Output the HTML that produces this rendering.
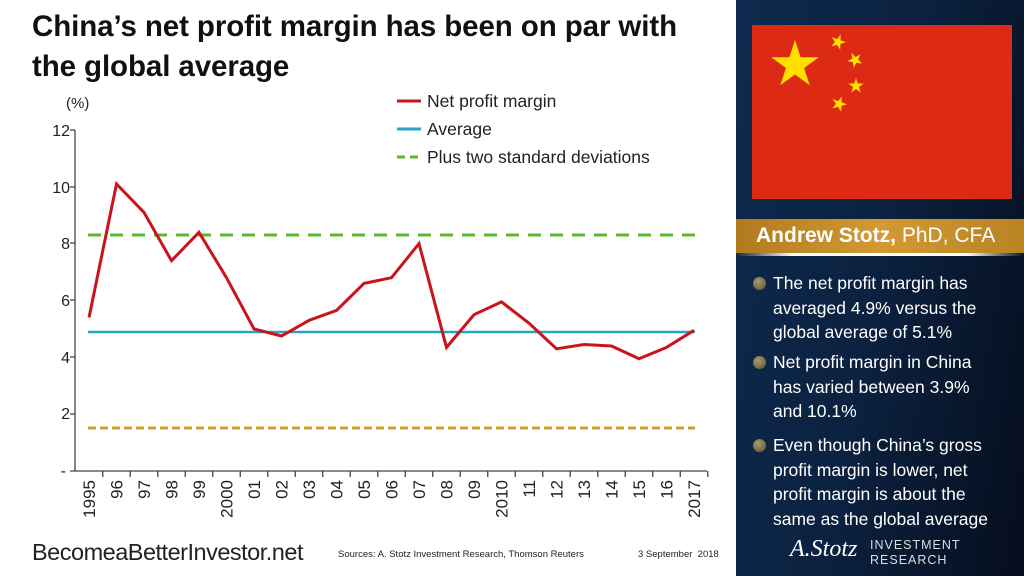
<!DOCTYPE html>
<html><head><meta charset="utf-8"><style>
body{margin:0;width:1024px;height:576px;overflow:hidden;background:#fff;font-family:"Liberation Sans",sans-serif;position:relative}
.title{position:absolute;left:32px;top:7px;font-size:29.5px;font-weight:bold;line-height:40px;color:#111;letter-spacing:-0.1px;white-space:nowrap}
.panel{position:absolute;left:736px;top:0;width:288px;height:576px;background:linear-gradient(100deg,#0e2a4e 0%,#0b213f 50%,#050d1c 100%)}
.band{position:absolute;left:736px;top:219px;width:288px;height:34px;background:linear-gradient(90deg,#b07a1e,#d39a33,#b98324);color:#fff;font-size:21px;line-height:34px;padding-left:20px;box-sizing:border-box}
.bul{position:absolute;left:773px;color:#fff;font-size:17.5px;line-height:24.5px;white-space:nowrap;letter-spacing:0px}
.dot{position:absolute;left:-20px;top:6px;width:13px;height:13px;border-radius:50%;background:radial-gradient(circle at 40% 35%,#a89a6a,#5a5030)}
.foot{position:absolute;color:#222;white-space:nowrap}
</style></head><body>
<div class="title">China’s net profit margin has been on par with<br>the global average</div>
<svg width="736" height="576" style="position:absolute;left:0;top:0" font-family="Liberation Sans, sans-serif">
<text x="66" y="108" font-size="15" fill="#222">(%)</text>
<g font-size="16" fill="#222" text-anchor="end">
<text x="70" y="136">12</text><text x="70" y="193">10</text><text x="70" y="249">8</text><text x="70" y="306">6</text><text x="70" y="363">4</text><text x="70" y="419">2</text><text x="66" y="476">-</text>
</g>
<g stroke="#444" stroke-width="1.3">
<line x1="75" y1="130" x2="75" y2="471"/>
<line x1="70" y1="130" x2="75" y2="130"/><line x1="70" y1="187" x2="75" y2="187"/><line x1="70" y1="243" x2="75" y2="243"/><line x1="70" y1="300" x2="75" y2="300"/><line x1="70" y1="357" x2="75" y2="357"/><line x1="70" y1="414" x2="75" y2="414"/>
<line x1="70" y1="471" x2="707" y2="471"/>
</g>
<g id="ticks" stroke="#444" stroke-width="1.3"></g>
<g id="xl" font-size="17" fill="#222"></g>
<line x1="88" y1="235" x2="695" y2="235" stroke="#5cb82a" stroke-width="3" stroke-dasharray="13,9"/>
<line x1="88" y1="428" x2="695" y2="428" stroke="#d89a2a" stroke-width="3" stroke-dasharray="8,4"/>
<line x1="88" y1="332" x2="695" y2="332" stroke="#2aa3c9" stroke-width="2.5"/>
<polyline id="red" fill="none" stroke="#c8141a" stroke-width="3"/>
<line x1="397" y1="101" x2="421" y2="101" stroke="#c8141a" stroke-width="3"/>
<line x1="397" y1="129" x2="421" y2="129" stroke="#2aa3c9" stroke-width="3"/>
<line x1="397" y1="157" x2="421" y2="157" stroke="#5cb82a" stroke-width="3" stroke-dasharray="8,5"/>
<g font-size="17.5" fill="#222"><text x="427" y="107">Net profit margin</text><text x="427" y="135">Average</text><text x="427" y="163">Plus two standard deviations</text></g>
</svg>
<div class="panel"></div>
<svg width="288" height="220" style="position:absolute;left:736px;top:0" fill="#ffde00">
<rect x="16" y="25" width="260" height="174" fill="#dd2a14"/>
<polygon points="0,-1 0.2245,-0.309 0.951,-0.309 0.363,0.118 0.588,0.809 0,0.382 -0.588,0.809 -0.363,0.118 -0.951,-0.309 -0.2245,-0.309" transform="translate(59,65) scale(25)"/>
<polygon points="0,-1 0.2245,-0.309 0.951,-0.309 0.363,0.118 0.588,0.809 0,0.382 -0.588,0.809 -0.363,0.118 -0.951,-0.309 -0.2245,-0.309" transform="translate(102,42) rotate(20) scale(8)"/>
<polygon points="0,-1 0.2245,-0.309 0.951,-0.309 0.363,0.118 0.588,0.809 0,0.382 -0.588,0.809 -0.363,0.118 -0.951,-0.309 -0.2245,-0.309" transform="translate(119,60) rotate(45) scale(8)"/>
<polygon points="0,-1 0.2245,-0.309 0.951,-0.309 0.363,0.118 0.588,0.809 0,0.382 -0.588,0.809 -0.363,0.118 -0.951,-0.309 -0.2245,-0.309" transform="translate(120,86) scale(8)"/>
<polygon points="0,-1 0.2245,-0.309 0.951,-0.309 0.363,0.118 0.588,0.809 0,0.382 -0.588,0.809 -0.363,0.118 -0.951,-0.309 -0.2245,-0.309" transform="translate(103,104) rotate(20) scale(8)"/>
</svg>
<div class="band"><b>Andrew Stotz,</b> PhD, CFA</div>
<div style="position:absolute;left:736px;top:253px;width:288px;height:3px;background:linear-gradient(90deg,transparent,#fff 20%,#fff 80%,transparent)"></div>
<div class="bul" style="top:271px"><span class="dot"></span>The net profit margin has<br>averaged 4.9% versus the<br>global average of 5.1%</div>
<div class="bul" style="top:350px"><span class="dot"></span>Net profit margin in China<br>has varied between 3.9%<br>and 10.1%</div>
<div class="bul" style="top:433px"><span class="dot"></span>Even though China’s gross<br>profit margin is lower, net<br>profit margin is about the<br>same as the global average</div>
<div style="position:absolute;left:790px;top:536px;color:#fff;font-family:'Liberation Serif',serif;font-style:italic;font-size:24px">A.Stotz</div>
<div style="position:absolute;left:870px;top:538px;color:#ddd;font-size:12.5px;line-height:15px;letter-spacing:1px">INVESTMENT<br>RESEARCH</div>
<div class="foot" style="left:32px;top:539px;font-size:23.5px;letter-spacing:-0.5px">BecomeaBetterInvestor.net</div>
<div class="foot" style="left:338px;top:549px;font-size:9.5px">Sources: A. Stotz Investment Research, Thomson Reuters</div>
<div class="foot" style="left:638px;top:549px;font-size:9.5px">3 September &nbsp;2018</div>
<script>
var d=[5.4,10.1,9.1,7.4,8.4,6.8,5.0,4.75,5.3,5.65,6.6,6.8,8.0,4.35,5.5,5.95,5.2,4.3,4.45,4.4,3.95,4.35,4.95];
var L=["1995","96","97","98","99","2000","01","02","03","04","05","06","07","08","09","2010","11","12","13","14","15","16","2017"];
var ns="http://www.w3.org/2000/svg",pts=[],tk=document.getElementById('ticks'),xl=document.getElementById('xl');
for(var i=0;i<23;i++){var x=89+i*27.5;pts.push(x+","+(471-d[i]*28.42).toFixed(1));
var t=document.createElementNS(ns,'line');var tx=x+13.75;t.setAttribute('x1',tx);t.setAttribute('x2',tx);t.setAttribute('y1',471);t.setAttribute('y2',477);tk.appendChild(t);
var s=document.createElementNS(ns,'text');s.setAttribute('transform','translate('+(x+6)+',480) rotate(-90)');s.setAttribute('text-anchor','end');s.textContent=L[i];xl.appendChild(s);}
document.getElementById('red').setAttribute('points',pts.join(' '));
</script>
</body></html>
